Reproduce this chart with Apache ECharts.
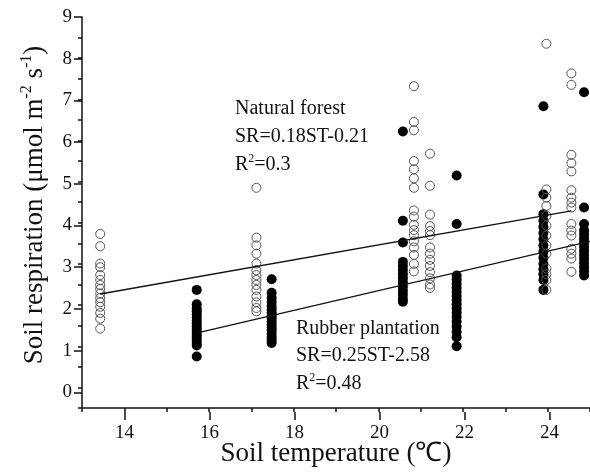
<!DOCTYPE html>
<html><head><meta charset="utf-8">
<script src="https://cdn.jsdelivr.net/npm/echarts@6/dist/echarts.min.js"></script>
<style>html,body{margin:0;padding:0;background:#fff}#c{width:590px;height:472px}</style>
</head><body><div id="c"></div>
<script>
// ---- data ----
const xTicksMajor = [14, 16, 18, 20, 22, 24];
const yTicks = [0, 1, 2, 3, 4, 5, 6, 7, 8, 9];

// Natural forest (open circles): [temperature, respiration]
const nfT1 = 13.43, nfV1 = [3.73, 3.43, 3.01, 2.92, 2.73, 2.61, 2.49, 2.39, 2.28, 2.17, 2.07, 1.96, 1.81, 1.67, 1.43];
const nfT2 = 17.12, nfV2 = [4.85, 3.64, 3.45, 3.25, 3.01, 2.85, 2.73, 2.61, 2.49, 2.37, 2.21, 2.07, 1.93, 1.85];
const nfT3 = 20.84, nfV3 = [7.32, 6.45, 6.25, 5.5, 5.3, 5.08, 4.85, 4.3, 4.15, 3.95, 3.82, 3.7, 3.55, 3.4, 3.22, 3.0, 2.82];
const nfT4 = 21.22, nfV4 = [5.68, 4.9, 4.2, 3.92, 3.8, 3.7, 3.4, 3.25, 3.1, 2.95, 2.8, 2.65, 2.5, 2.42];
const nfT5 = 23.97, nfV5 = [8.35, 4.81, 4.61, 4.41, 4.17, 3.93, 3.69, 3.45, 3.25, 2.89, 2.75, 2.61, 2.37];
const nfT6 = 24.56, nfV6 = [7.63, 7.35, 5.65, 5.45, 5.25, 4.79, 4.61, 4.49, 4.37, 3.97, 3.81, 3.69, 3.37, 3.25, 3.13, 2.81];

// Rubber plantation (filled circles)
const rpT1 = 15.71, rpV1 = [2.37, 2.02, 1.92, 1.85, 1.78, 1.70, 1.62, 1.55, 1.48, 1.42, 1.35, 1.28, 1.22, 1.15, 1.08, 1.02, 0.75];
const rpT2 = 17.48, rpV2 = [2.63, 2.30, 2.18, 2.08, 1.98, 1.90, 1.82, 1.75, 1.68, 1.60, 1.52, 1.45, 1.38, 1.30, 1.22, 1.15, 1.08];
const rpT3 = 20.58, rpV3 = [6.22, 4.05, 3.52, 3.05, 2.95, 2.85, 2.75, 2.65, 2.55, 2.45, 2.35, 2.25, 2.15, 2.08];
const rpT4 = 21.85, rpV4 = [5.15, 3.97, 2.72, 2.62, 2.52, 2.42, 2.32, 2.22, 2.12, 2.02, 1.92, 1.82, 1.72, 1.6, 1.48, 1.35, 1.22, 1.0];
const rpT5 = 23.90, rpV5 = [6.83, 4.69, 4.21, 4.05, 3.9, 3.75, 3.6, 3.45, 3.3, 3.15, 3.0, 2.87, 2.75, 2.61, 2.37];
const rpT6 = 24.86, rpV6 = [7.17, 4.37, 3.97, 3.82, 3.72, 3.62, 3.52, 3.42, 3.32, 3.22, 3.12, 3.02, 2.92, 2.82, 2.72];

// Regression lines (end points)
const nfLine = [[13.43, 2.27], [24.56, 4.29]];
const rpLine = [[15.75, 1.33], [25.0, 3.55]];

function pts(t, vals) { return vals.map(v => [t, v]); }
const nfData = [].concat(pts(nfT1, nfV1), pts(nfT2, nfV2), pts(nfT3, nfV3), pts(nfT4, nfV4), pts(nfT5, nfV5), pts(nfT6, nfV6));
const rpData = [].concat(pts(rpT1, rpV1), pts(rpT2, rpV2), pts(rpT3, rpV3), pts(rpT4, rpV4), pts(rpT5, rpV5), pts(rpT6, rpV6));

const FONT = '"Liberation Serif", "Times New Roman", serif';
const chart = echarts.init(document.getElementById('c'), null, {renderer: 'canvas'});
const axisLineStyle = {color: '#111', width: 1.5};
const supRich = {
  n: {fontFamily: FONT, fontSize: 20, lineHeight: 22, fill: '#111'},
  s: {fontFamily: FONT, fontSize: 12, lineHeight: 12, padding: [0, 0, 12, 0], fill: '#111'}
};

chart.setOption({
  animation: false,
  backgroundColor: '#fff',
  grid: [
    {left: 82, width: 510, top: 17, height: 395},      // data grid
    {left: 124.5, width: 425, top: 17, height: 395},   // x major ticks 14..24
    {left: 82, width: 510, top: 17, height: 375.3}     // y major ticks 0..9
  ],
  xAxis: [
    {gridIndex: 0, type: 'value', min: 13, max: 25, interval: 1,
     axisLine: {show: true, onZero: false, lineStyle: axisLineStyle},
     axisTick: {show: true, length: 4, lineStyle: axisLineStyle},
     axisLabel: {show: false}, splitLine: {show: false},
     name: 'Soil temperature (\u2103)', nameLocation: 'middle', nameGap: 32,
     nameTextStyle: {fontFamily: FONT, fontSize: 27, color: '#111'}},
    {gridIndex: 1, type: 'value', min: 14, max: 24, interval: 2,
     axisLine: {show: false, onZero: false},
     axisTick: {show: true, length: 8, lineStyle: axisLineStyle},
     axisLabel: {show: true, margin: 12, fontFamily: FONT, fontSize: 19, color: '#111',
       formatter: v => xTicksMajor.indexOf(v) >= 0 ? String(v) : ''},
     splitLine: {show: false}},
    {gridIndex: 2, type: 'value', min: 13, max: 25, show: false}
  ],
  yAxis: [
    {gridIndex: 0, type: 'value', min: -0.5, max: 9, interval: 0.5,
     axisLine: {show: true, onZero: false, lineStyle: axisLineStyle},
     axisTick: {show: true, length: 4, lineStyle: axisLineStyle},
     axisLabel: {show: false}, splitLine: {show: false}},
    {gridIndex: 1, type: 'value', min: 0, max: 9, show: false},
    {gridIndex: 2, type: 'value', min: 0, max: 9, interval: 1,
     axisLine: {show: false, onZero: false},
     axisTick: {show: true, length: 8, lineStyle: axisLineStyle},
     axisLabel: {show: true, margin: 10, fontFamily: FONT, fontSize: 19, color: '#111',
       formatter: v => yTicks.indexOf(v) >= 0 ? String(v) : ''},
     splitLine: {show: false}}
  ],
  series: [
    {type: 'scatter', name: 'Rubber plantation', xAxisIndex: 0, yAxisIndex: 0, data: rpData,
     symbol: 'circle', symbolSize: 10, itemStyle: {color: '#000', opacity: 1}, z: 2},
    {type: 'scatter', name: 'Natural forest', xAxisIndex: 0, yAxisIndex: 0, data: nfData,
     symbol: 'circle', symbolSize: 9,
     itemStyle: {color: 'rgba(255,255,255,0)', borderColor: '#555', borderWidth: 1, opacity: 1}, z: 3},
    {type: 'line', xAxisIndex: 0, yAxisIndex: 0, data: nfLine, symbol: 'none',
     lineStyle: {color: '#111', width: 1.3}, z: 4},
    {type: 'line', xAxisIndex: 0, yAxisIndex: 0, data: rpLine, symbol: 'none',
     lineStyle: {color: '#111', width: 1.3}, z: 4}
  ],
  graphic: [
    {type: 'text', x: 35, y: 205, rotation: Math.PI / 2,
     style: {text: '{n|Soil respiration (\u03bcmol m}{s|-2}{n| s}{s|-1}{n|)}',
       align: 'center', verticalAlign: 'middle', fill: '#111',
       rich: {n: {fontFamily: FONT, fontSize: 27, lineHeight: 30, fill: '#111'},
              s: {fontFamily: FONT, fontSize: 16, lineHeight: 16, padding: [0, 0, 16, 0], fill: '#111'}}}},
    {type: 'text', x: 235, y: 99, style: {text: 'Natural forest', font: '20px ' + FONT, fill: '#111'}},
    {type: 'text', x: 235, y: 127, style: {text: 'SR=0.18ST-0.21', font: '20px ' + FONT, fill: '#111'}},
    {type: 'text', x: 235, y: 154, style: {text: '{n|R}{s|2}{n|=0.3}', fill: '#111', rich: supRich}},
    {type: 'text', x: 296, y: 319, style: {text: 'Rubber plantation', font: '20px ' + FONT, fill: '#111'}},
    {type: 'text', x: 296, y: 346, style: {text: 'SR=0.25ST-2.58', font: '20px ' + FONT, fill: '#111'}},
    {type: 'text', x: 296, y: 373, style: {text: '{n|R}{s|2}{n|=0.48}', fill: '#111', rich: supRich}}
  ]
});
</script></body></html>
